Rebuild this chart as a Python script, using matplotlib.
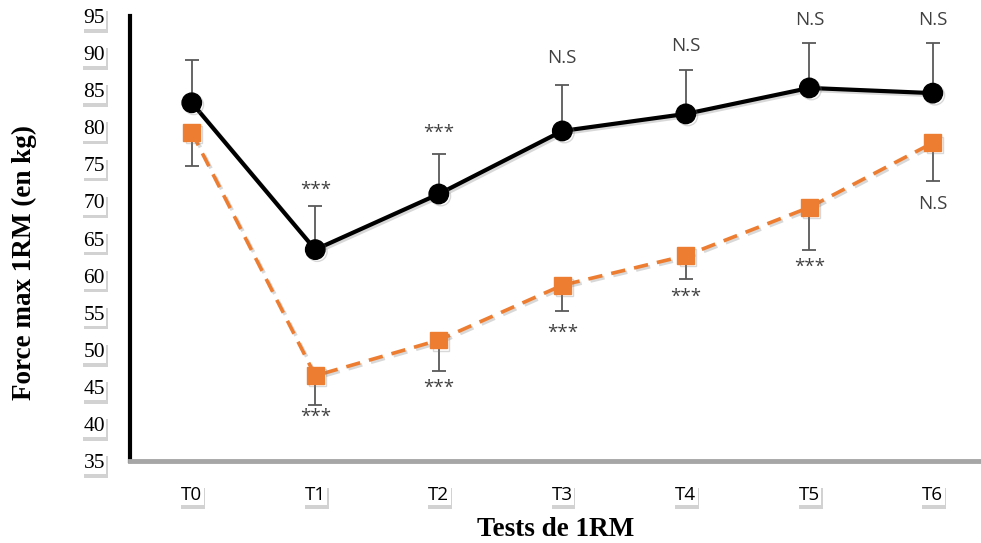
"""Force max 1RM across tests T0..T6."""

import matplotlib.pyplot as plt
import matplotlib.patheffects as pe

tests = ["T0", "T1", "T2", "T3", "T4", "T5", "T6"]
black_mean = [83.3, 63.5, 71.0, 79.5, 81.8, 85.3, 84.6]
black_sd = [5.8, 5.9, 5.4, 6.2, 5.9, 6.1, 6.8]
orange_mean = [79.3, 46.5, 51.3, 58.7, 62.7, 69.2, 77.9]
orange_sd = [4.5, 3.9, 4.2, 3.5, 3.2, 5.7, 5.2]
black_sig = ["", "***", "***", "N.S", "N.S", "N.S", "N.S"]
orange_sig = ["", "***", "***", "***", "***", "***", "N.S"]
black_sig_y = [None, 71.5, 79.3, 89.3, 90.9, 94.4, 94.4]
orange_sig_y = [None, 40.9, 44.8, 52.3, 57.2, 61.2, 69.6]
y_ticks = list(range(35, 100, 5))

ORANGE = "#ED7D31"
GREY = "#595959"
TXT = "#404040"

fig = plt.figure(figsize=(9.81, 5.43), dpi=100)
ax = fig.add_axes([130 / 981, 1 - 461 / 543, 1 - 130 / 981, 445 / 543])
x = list(range(len(tests)))

ax.errorbar(x, black_mean, yerr=[[0] * 7, black_sd], fmt="none", ecolor=GREY,
            elinewidth=1.3, capsize=5, capthick=1.3, zorder=2)
ax.errorbar(x, orange_mean, yerr=[orange_sd, [0] * 7], fmt="none", ecolor=GREY,
            elinewidth=1.3, capsize=5, capthick=1.3, zorder=2)

shadow = [pe.SimpleLineShadow(offset=(1.5, -1.5), shadow_color="gray", alpha=0.3), pe.Normal()]
ax.plot(x, black_mean, color="black", lw=3, marker="o", ms=14, zorder=4,
        path_effects=shadow)
ax.plot(x, orange_mean, color=ORANGE, lw=2.6, ls=(0, (4, 2.5)), marker="s", ms=12,
        markeredgecolor=ORANGE, zorder=3, path_effects=shadow)

for i in x:
    if black_sig[i]:
        ax.text(i, black_sig_y[i], black_sig[i], ha="center", va="center",
                color=TXT, fontsize=13.5, family="Open Sans")
    if orange_sig[i]:
        ax.text(i, orange_sig_y[i], orange_sig[i], ha="center", va="center",
                color=TXT, fontsize=13.5, family="Open Sans")

ax.set_xlim(-0.5, 6.39)
ax.set_ylim(35, 95)
ax.set_xticks(x)
ax.set_xticklabels(tests, family="Open Sans", fontsize=13.5)
ax.set_yticks(y_ticks)
ax.set_yticklabels([str(t) for t in y_ticks], family="Liberation Serif", fontsize=15.5)
ax.tick_params(length=0)
ax.tick_params(axis="y", pad=18)
ax.tick_params(axis="x", pad=18)

box_shadow = [pe.withSimplePatchShadow(offset=(1, -2.5), shadow_rgbFace="gray", alpha=0.35)]
for lab in ax.get_xticklabels() + ax.get_yticklabels():
    lab.set_bbox(dict(facecolor="white", edgecolor="none", pad=1))
    lab.get_bbox_patch().set_path_effects(box_shadow)

for side in ["top", "right"]:
    ax.spines[side].set_visible(False)
ax.spines["left"].set_linewidth(3)
ax.spines["left"].set_color("black")
ax.spines["bottom"].set_linewidth(3.5)
ax.spines["bottom"].set_color("#a6a6a6")

ax.set_xlabel("Tests de 1RM", family="Liberation Serif", fontweight="bold", fontsize=19.5,
              labelpad=9)
fig.text(24 / 981, 1 - 262 / 543, "Force max 1RM (en kg)", rotation=90, ha="center",
         va="center", family="Liberation Serif", fontweight="bold", fontsize=19.5)

fig.savefig("out.png", dpi=100)
